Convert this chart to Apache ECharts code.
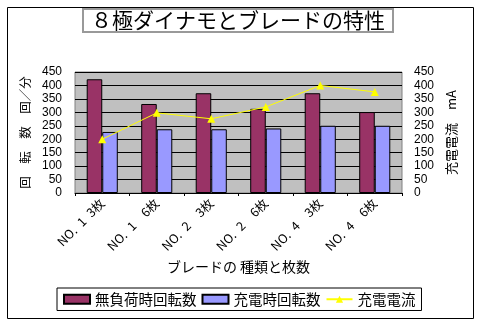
<!DOCTYPE html>
<html>
<head>
<meta charset="utf-8">
<script src="https://cdn.jsdelivr.net/npm/echarts@6/dist/echarts.min.js"></script>
<style>
html,body{margin:0;padding:0;background:#fff;}
#c{width:478px;height:323px;}
</style>
</head>
<body>
<div id="c"></div>
<script>
const categories = ['NO.\u20021\u20023枚', 'NO.\u20021\u2002\u20026枚', 'NO.\u20022\u2002\u20023枚', 'NO.\u20022\u2002\u20026枚', 'NO.\u20024\u2002\u20023枚', 'NO.\u20024\u2002\u20026枚'];
const noLoadRpm = [423, 331, 371, 313, 371, 301];
const chargeRpm = [227, 237, 237, 240, 250, 250];
const chargeCurrent = [200, 298, 276, 320, 400, 376];
const seriesNames = ['無負荷時回転数', '充電時回転数', '充電電流'];
const titleText = '８極ダイナモとブレードの特性';
const xName = 'ブレードの 種類と枚数';
const yLeftName = '回　転　数　回／分';
const yRightName = '充電電流　mA';

const cjk = '"Noto Sans CJK JP", "Liberation Sans", sans-serif';
const chart = echarts.init(document.getElementById('c'), null, {renderer: 'canvas'});
chart.setOption({
  animation: false,
  backgroundColor: '#fff',
  textStyle: {fontFamily: cjk, color: '#000'},
  graphic: [{
    type: 'rect', left: 5, top: 5, silent: true,
    shape: {width: 466, height: 311},
    style: {fill: 'none', stroke: '#000', lineWidth: 1}
  }],
  title: {
    text: titleText,
    left: 83, top: 9,
    padding: [1, 8, 1, 8],
    borderColor: '#999', borderWidth: 2,
    textStyle: {fontSize: 21, fontWeight: 'normal', color: '#000', fontFamily: cjk}
  },
  legend: {
    data: [{name: seriesNames[0], icon: 'rect'}, {name: seriesNames[1], icon: 'rect'}, {name: seriesNames[2]}],
    left: 57, top: 288,
    padding: [4, 6, 4, 6],
    itemGap: 5,
    itemWidth: 26, itemHeight: 9,
    borderColor: '#000', borderWidth: 1,
    textStyle: {fontSize: 14.5, color: '#000', fontFamily: cjk}
  },
  grid: {left: 75, right: 76, top: 72, bottom: 130, show: true, backgroundColor: '#C0C0C0', borderColor: '#808080', borderWidth: 1},
  xAxis: {
    type: 'category',
    data: categories,
    name: xName, nameLocation: 'middle', nameGap: 67,
    nameTextStyle: {fontSize: 14, color: '#000', fontFamily: cjk},
    axisLine: {lineStyle: {color: '#000'}},
    axisTick: {show: true, length: 3, lineStyle: {color: '#000'}},
    axisLabel: {rotate: 45, fontSize: 12.5, color: '#000', margin: 8, fontFamily: cjk}
  },
  yAxis: [{
    type: 'value', min: 0, max: 450, interval: 50,
    name: yLeftName, nameLocation: 'middle', nameGap: 42, nameRotate: 90,
    nameTextStyle: {fontSize: 12.5, color: '#000', fontFamily: cjk},
    axisLine: {show: false}, axisTick: {show: false},
    axisLabel: {fontSize: 12, color: '#000', margin: 13, fontFamily: '"Liberation Sans", sans-serif'},
    splitLine: {lineStyle: {color: '#000', width: 1}}
  }, {
    type: 'value', min: 0, max: 450, interval: 50, position: 'right',
    name: yRightName, nameLocation: 'middle', nameGap: 34, nameRotate: 90,
    nameTextStyle: {fontSize: 13, color: '#000', fontFamily: cjk},
    axisLine: {show: false}, axisTick: {show: false},
    axisLabel: {fontSize: 12, color: '#000', margin: 12, fontFamily: '"Liberation Sans", sans-serif'},
    splitLine: {show: false}
  }],
  series: [{
    name: seriesNames[0], type: 'bar', data: noLoadRpm,
    barGap: '0%', barCategoryGap: '43%',
    itemStyle: {color: '#993366', borderColor: '#000', borderWidth: 1}
  }, {
    name: seriesNames[1], type: 'bar', data: chargeRpm,
    barGap: '0%', barCategoryGap: '43%',
    itemStyle: {color: '#9999FF', borderColor: '#000', borderWidth: 1}
  }, {
    name: seriesNames[2], type: 'line', yAxisIndex: 1, data: chargeCurrent,
    symbol: 'triangle', symbolSize: 8,
    lineStyle: {color: '#FFFF00', width: 1},
    itemStyle: {color: '#FFFF00'}
  }]
});
</script>
</body>
</html>
